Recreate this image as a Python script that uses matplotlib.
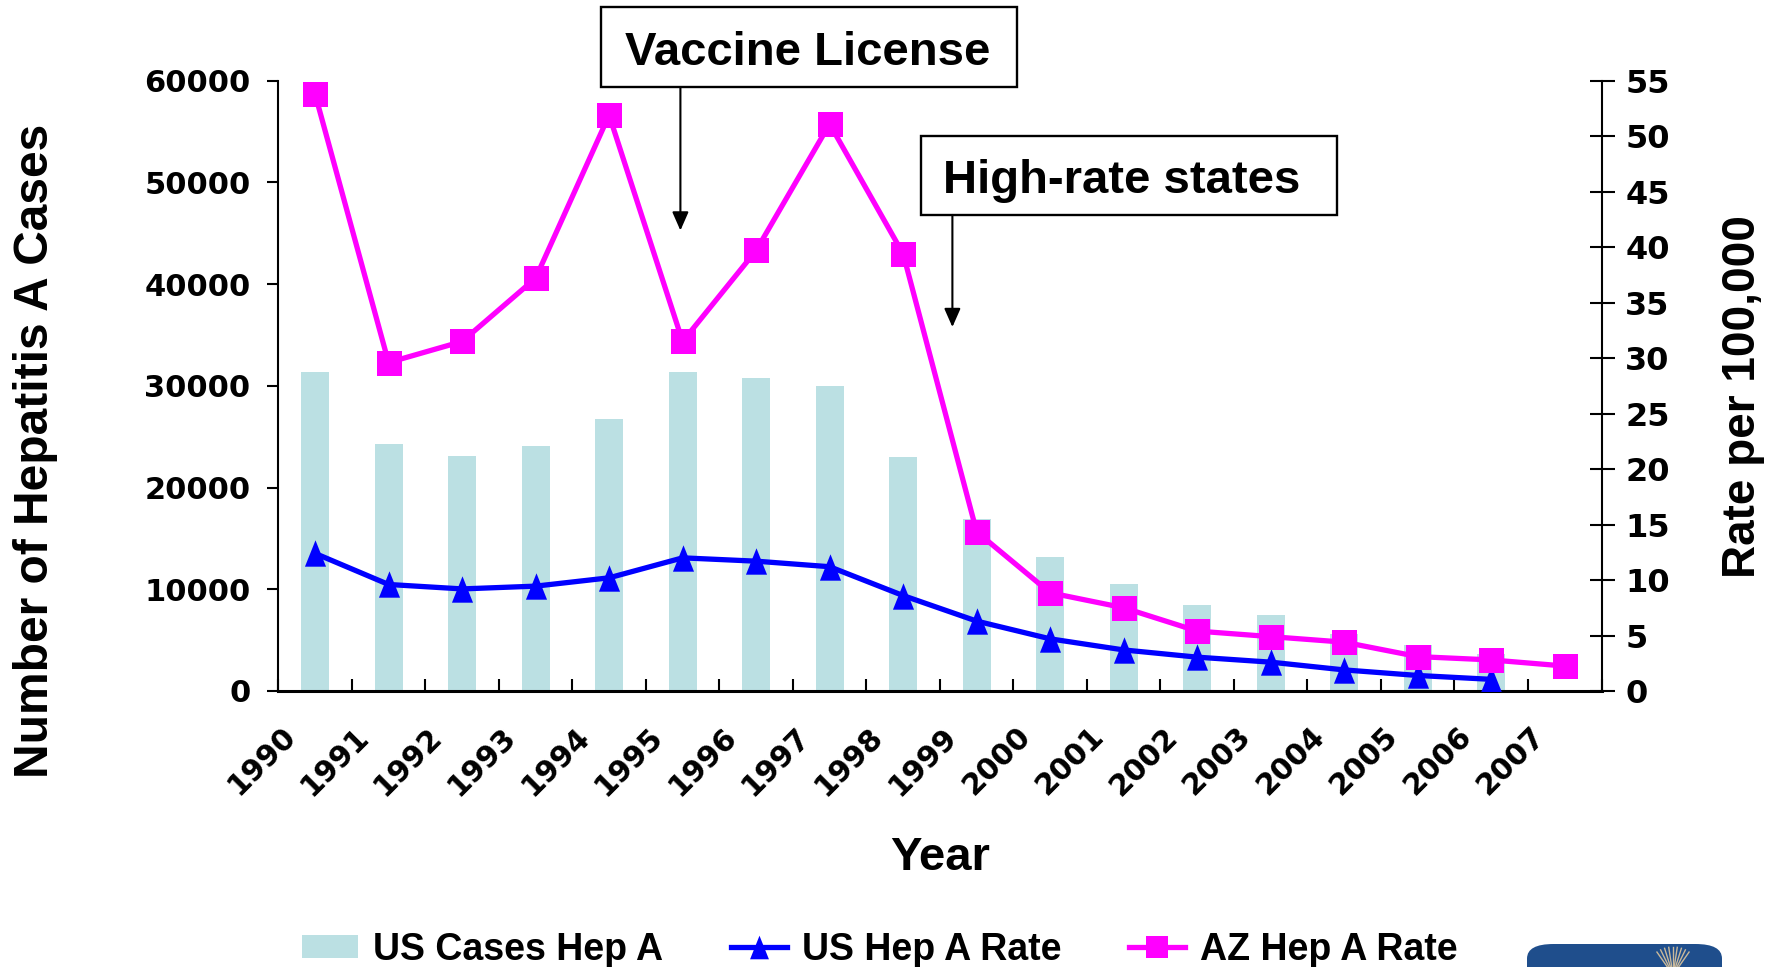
import matplotlib
matplotlib.use("Agg")
import matplotlib.pyplot as plt
import numpy as np
from matplotlib.patches import Rectangle, FancyBboxPatch, Patch
from matplotlib.lines import Line2D
from matplotlib.transforms import ScaledTranslation

plt.rcParams["font.family"] = ["Liberation Sans", "DejaVu Sans"]
plt.rcParams["font.weight"] = "bold"

# ── data ─────────────────────────────────────────────────────────────────────
years = [str(y) for y in range(1990, 2008)]
us_cases = [31400, 24300, 23100, 24100, 26700, 31400, 30800, 30000, 23000,
            16900, 13200, 10500, 8500, 7500, 5600, 4500, 3600, np.nan]
us_rate = [12.4, 9.6, 9.2, 9.45, 10.2, 12.0, 11.7, 11.2, 8.6,
           6.3, 4.7, 3.7, 3.05, 2.6, 1.9, 1.4, 1.05, np.nan]
az_rate = [53.8, 29.6, 31.5, 37.2, 51.9, 31.5, 39.7, 51.1, 39.4,
           14.35, 8.85, 7.5, 5.4, 4.9, 4.4, 3.1, 2.8, 2.25]

# event markers: x position in categories, arrow tip on the rate axis
vaccine_x, vaccine_tip = 4.97, 41.5
highrate_x, highrate_tip = 8.67, 32.8

BAR_COLOR = "#BBE0E3"
US_COLOR = "#0000FF"
AZ_COLOR = "#FF00FF"
TICK_FONT = "DejaVu Sans"

W, H = 1771, 967
fig = plt.figure(figsize=(W / 100, H / 100), dpi=100)
ax = fig.add_axes([278.3 / W, 1 - 691 / H, (1601.5 - 278.3) / W, (691 - 80.7) / H])
ax2 = ax.twinx()

x = np.arange(len(years))

# cases (left axis)
ax.bar(x, us_cases, width=0.38, color=BAR_COLOR, zorder=1)
ax.set_xlim(-0.5, len(years) - 0.5)
ax.set_ylim(0, 60000)
ax.set_yticks(np.arange(0, 60001, 10000))

# rates (right axis)
tri = [(-0.8, -1), (0.8, -1), (0, 1)]
ax2.plot(x, us_rate, color=US_COLOR, lw=3.8, marker=tri, ms=19,
         markeredgewidth=0, zorder=3)
ax2.plot(x, az_rate, color=AZ_COLOR, lw=3.8, marker="s", ms=18,
         markeredgewidth=0, zorder=4)
ax2.set_ylim(0, 55)
ax2.set_yticks(np.arange(0, 56, 5))

# spines / ticks
for a in (ax, ax2):
    a.spines["top"].set_visible(False)
ax.spines["right"].set_visible(False)
ax2.spines["left"].set_visible(False)
ax2.spines["bottom"].set_visible(False)
ax.spines["left"].set_linewidth(1.5)
ax.spines["bottom"].set_linewidth(2.2)
ax2.spines["right"].set_linewidth(1.5)

ax.tick_params(axis="y", direction="out", length=8, width=1.5, pad=12,
               labelsize=22)
ax2.tick_params(axis="y", direction="inout", length=18, width=1.5, pad=8,
                labelsize=23)
for lab in ax.get_yticklabels() + ax2.get_yticklabels():
    lab.set_fontfamily(TICK_FONT)
    lab.set_fontweight("bold")

ax.set_xticks(x)
ax.set_xticklabels(years, rotation=45, ha="right", fontfamily=TICK_FONT,
                   fontweight="bold", fontsize=21.5)
ax.tick_params(axis="x", which="major", length=0, pad=22)
ax.set_xticks(np.arange(-0.5, len(years), 1), minor=True)
ax.tick_params(axis="x", which="minor", direction="in", length=8.4, width=1.5)
shift = ScaledTranslation(-0.14, 0, fig.dpi_scale_trans)
for lab in ax.get_xticklabels():
    lab.set_transform(lab.get_transform() + shift)

# axis titles
fig.text(13 / W, 1 - 450.7 / H, "Number of Hepatitis A Cases", rotation=90,
         ha="left", va="center", fontsize=34.5)
fig.text(1765 / W, 1 - 397 / H, "Rate per 100,000", rotation=90,
         ha="right", va="center", fontsize=33)
fig.text(940 / W, 1 - 870 / H, "Year", ha="center", va="baseline", fontsize=34)

# annotation boxes with arrows
def event_box(x0, y0, x1, y1, text, tx, ty):
    fig.add_artist(Rectangle((x0 / W, 1 - y1 / H), (x1 - x0) / W, (y1 - y0) / H,
                             transform=fig.transFigure, fill=False,
                             edgecolor="black", lw=1.7))
    fig.text(tx / W, 1 - ty / H, text, ha="center", va="baseline", fontsize=34)

event_box(600.7, 7.3, 1017.3, 87.3, "Vaccine License", 807.5, 65)
event_box(920.7, 135.7, 1337.3, 215, "High-rate states", 1122, 192.7)

arrow = dict(arrowstyle="-|>,head_length=0.75,head_width=0.33", color="black",
             lw=1.5, mutation_scale=15, shrinkA=0, shrinkB=0)
ax2.annotate("", xy=(vaccine_x, vaccine_tip), xytext=(vaccine_x, 54.4),
             arrowprops=arrow, annotation_clip=False)
ax2.annotate("", xy=(highrate_x, highrate_tip), xytext=(highrate_x, 42.9),
             arrowprops=arrow, annotation_clip=False)

# legend along the bottom
handles = [
    Patch(facecolor=BAR_COLOR, edgecolor="none", label="US Cases Hep A"),
    Line2D([], [], color=US_COLOR, lw=3.8, marker=tri, ms=17, mew=0,
           label="US Hep A Rate"),
    Line2D([], [], color=AZ_COLOR, lw=3.8, marker="s", ms=16, mew=0,
           label="AZ Hep A Rate"),
]
fig.legend(handles=handles, loc="center", bbox_to_anchor=(880 / W, 1 - 949.5 / H),
           ncol=3, frameon=False, fontsize=27, handlelength=1.5,
           handleheight=0.55, handletextpad=0.4, columnspacing=1.8,
           borderpad=0, borderaxespad=0)

# logo corner
fig.add_artist(FancyBboxPatch((1527 / W, -0.05), 195 / W, 0.05 + (967 - 944) / H,
                              boxstyle="round,pad=0,rounding_size=0.015",
                              transform=fig.transFigure, facecolor="#1F4E8C",
                              edgecolor="none"))
cx, cy = 1673, 975
for ang in np.linspace(55, 125, 9):
    r = np.deg2rad(ang)
    fig.add_artist(Line2D([cx / W, (cx + 28 * np.cos(r)) / W],
                          [1 - cy / H, 1 - (cy - 28 * np.sin(r)) / H],
                          transform=fig.transFigure, color="#C9B99B", lw=1))

fig.savefig("out.png", dpi=100)
